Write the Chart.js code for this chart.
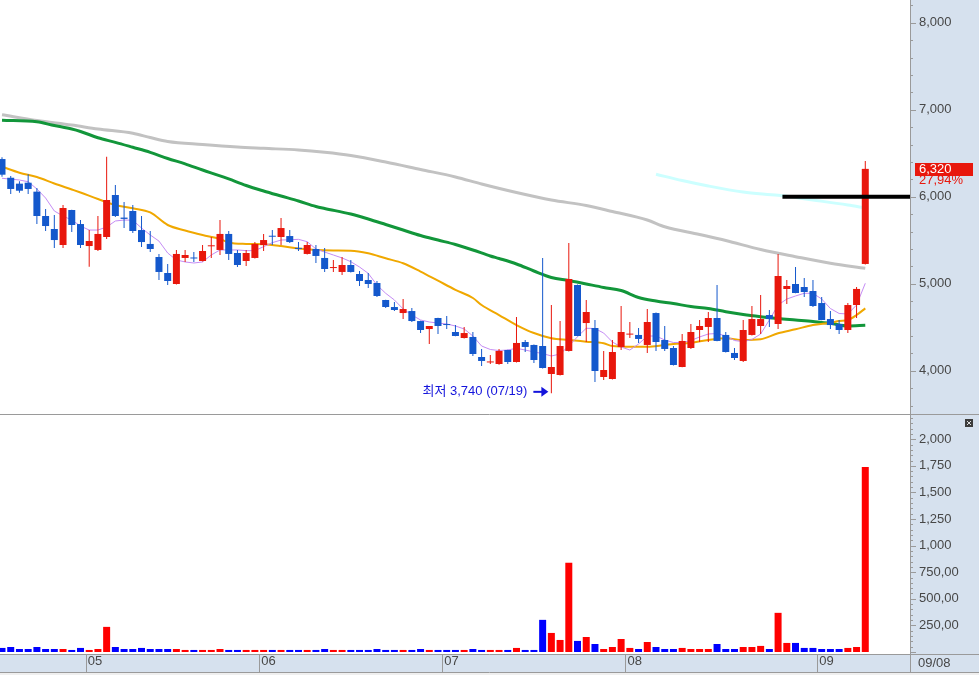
<!DOCTYPE html>
<html><head><meta charset="utf-8">
<script src="https://cdn.jsdelivr.net/npm/chart.js@4/dist/chart.umd.min.js"></script>
<style>
html,body{margin:0;padding:0;background:#fff;overflow:hidden}
#wrap{position:relative;width:979px;height:675px}
canvas{position:absolute;left:0;display:block}
#c1{top:0}#c2{top:415px}
</style></head><body>
<div id="wrap"><canvas id="c1" width="979" height="415"></canvas><canvas id="c2" width="979" height="260"></canvas></div>
<script>
// ---------- data ----------
const openP = [6433,6218,6150,6161,6058,5778,5629,5445,5847,5686,
5433,5388,5537,6020,5760,5836,5617,5457,5307,5123,
4997,5296,5300,5261,5430,5388,5572,5353,5261,5296,
5445,5545,5537,5548,5405,5342,5399,5296,5180,5135,
5215,5112,5043,5008,4813,4732,4663,4686,4571,4479,
4606,4530,4445,4376,4388,4158,4095,4077,4238,4100,
4330,4296,4284,3962,3951,4227,4985,4548,4491,3928,
3905,4273,4415,4411,4296,4663,4353,4261,4043,4261,
4468,4503,4606,4411,4204,4112,4411,4514,4640,4537,
4939,4997,4962,4916,4778,4594,4537,4468,4755,5227];
const highP = [6453,6238,6177,6257,6100,5859,5790,5905,5850,5732,
5617,5778,6460,6135,5939,5905,5778,5606,5342,5227,
5388,5388,5365,5445,5537,5732,5606,5388,5388,5479,
5572,5617,5755,5617,5479,5479,5445,5411,5273,5307,
5273,5146,5123,5031,4815,4790,4824,4721,4575,4514,
4610,4629,4525,4502,4445,4250,4181,4250,4242,4617,
4353,4300,5296,4755,4571,5468,4990,4813,4583,4227,
4353,4744,4560,4491,4709,4670,4514,4284,4422,4537,
4583,4675,4985,4445,4261,4583,4744,4870,4698,5342,
5043,5192,5066,5043,4847,4686,4583,4778,4962,6410];
const lowP = [6230,6031,6046,6031,5686,5606,5411,5411,5594,5411,
5196,5376,5514,5767,5640,5583,5422,5365,5043,4985,
4990,5250,5250,5255,5296,5330,5273,5192,5204,5290,
5376,5445,5445,5468,5376,5335,5238,5135,5135,5100,
5130,4974,4951,4847,4721,4686,4594,4560,4433,4307,
4422,4479,4395,4370,4169,4054,4077,4070,4077,4095,
4215,4089,4025,3740,3945,4220,4395,4330,3870,3893,
3900,4238,4376,4319,4204,4227,4227,4060,4040,4250,
4330,4330,4340,4210,4123,4100,4405,4422,4502,4479,
4767,4890,4847,4732,4580,4479,4422,4433,4606,5220];
const closeP = [6253,6089,6069,6089,5778,5663,5502,5870,5675,5445,
5491,5572,5962,5778,5745,5606,5479,5399,5135,5031,
5342,5330,5290,5376,5440,5572,5342,5215,5353,5457,
5502,5540,5640,5479,5400,5445,5319,5169,5185,5215,
5135,5031,4997,4859,4732,4698,4709,4571,4468,4514,
4514,4525,4399,4433,4192,4112,4100,4227,4100,4319,
4273,4123,4031,4043,4284,5054,4399,4675,3997,4008,
4215,4445,4425,4365,4560,4330,4250,4066,4342,4445,
4514,4606,4342,4215,4146,4468,4594,4594,4594,5089,
4974,4893,4905,4744,4583,4525,4468,4755,4940,6320];
const volume = [38,47,28,28,47,28,28,28,19,38,
19,28,236,47,28,28,38,28,28,28,
28,19,19,19,19,28,19,19,19,19,
19,19,19,19,19,19,19,28,19,19,
19,19,19,28,19,19,19,19,28,19,
19,19,19,19,28,19,19,19,19,38,
19,19,302,179,113,839,104,141,75,28,
47,122,38,28,94,47,28,28,38,28,
28,28,75,28,28,47,47,57,28,368,
85,85,38,38,28,28,28,38,47,1740];

// moving-average lines, read as [candle index, price]
const ma5 = [[0,6212],[2,6192],[3,6172],[4,6089],[5,5985],[6,5836],[7,5778],[8,5732],[9,5663],[10,5617],[11,5617],[12,5652],[13,5721],[14,5732],[15,5730],[16,5640],[17,5560],[18,5490],[19,5353],[20,5273],[21,5250],[22,5238],[23,5250],[24,5330],[25,5388],[26,5388],[27,5388],[28,5380],[29,5380],[30,5426],[31,5472],[32,5502],[33,5505],[34,5510],[35,5483],[36,5400],[37,5364],[38,5330],[39,5296],[40,5253],[41,5192],[42,5119],[43,4985],[44,4890],[45,4813],[46,4710],[47,4640],[48,4583],[49,4560],[50,4548],[51,4537],[52,4514],[53,4480],[54,4399],[55,4284],[56,4244],[57,4232],[58,4238],[59,4258],[60,4238],[61,4215],[62,4198],[63,4169],[64,4192],[65,4284],[66,4391],[67,4488],[68,4485],[69,4433],[70,4330],[71,4273],[72,4238],[73,4307],[74,4399],[75,4399],[76,4353],[77,4324],[78,4324],[79,4347],[80,4388],[81,4422],[82,4428],[83,4399],[84,4347],[85,4334],[86,4359],[87,4422],[88,4583],[89,4755],[90,4824],[91,4859],[92,4890],[93,4890],[94,4824],[95,4715],[96,4658],[97,4652],[98,4755],[99,5005]];
const ma20 = [[0,6345],[2,6276],[4,6227],[6,6152],[8,6083],[9,6048],[11,5974],[13,5905],[15,5867],[17,5819],[19,5675],[21,5612],[23,5560],[25,5514],[26,5474],[28,5457],[30,5453],[32,5433],[34,5405],[36,5388],[38,5382],[40,5380],[42,5350],[44,5292],[46,5235],[48,5140],[50,5035],[52,4930],[54,4836],[55,4755],[57,4640],[59,4525],[61,4433],[63,4373],[65,4353],[67,4334],[69,4315],[70,4284],[72,4276],[74,4276],[76,4296],[77,4307],[79,4322],[81,4353],[83,4373],[85,4353],[87,4361],[89,4430],[91,4476],[93,4525],[95,4552],[96,4571],[97,4583],[98,4640],[99,4717]];
const ma60 = [[0,6878],[4,6861],[6,6818],[8,6778],[9,6750],[11,6678],[13,6625],[15,6568],[17,6510],[19,6439],[21,6378],[23,6307],[25,6240],[26,6204],[28,6129],[30,6066],[32,6008],[34,5951],[36,5888],[37,5865],[40,5801],[42,5744],[44,5681],[46,5617],[48,5554],[50,5502],[52,5451],[54,5388],[56,5319],[57,5290],[59,5227],[61,5146],[63,5072],[65,5037],[67,4997],[69,4957],[71,4922],[73,4842],[75,4801],[77,4772],[79,4738],[81,4715],[83,4678],[85,4646],[87,4621],[89,4600],[91,4583],[93,4566],[95,4545],[97,4514],[99,4522]];
const ma120 = [[0,6943],[4,6876],[8,6824],[11,6778],[15,6729],[17,6680],[19,6635],[23,6600],[27,6571],[30,6556],[34,6537],[37,6511],[40,6474],[44,6399],[48,6313],[52,6227],[55,6146],[59,6048],[63,5962],[67,5899],[70,5830],[74,5732],[76,5655],[80,5566],[83,5497],[87,5393],[91,5311],[95,5235],[99,5177]];
const ma240 = [[75,6258],[78,6186],[81,6123],[85,6054],[89,6016],[93,5962],[97,5905],[99,5870]];

const monthTickPos = [9.6, 29.5, 50.5, 71.5, 93.5];
const monthTickLabels = ['05','06','07','08','09'];
const lastDateLabel = '09/08';
const priceTicks = [3600,3800,4000,4200,4400,4600,4800,5000,5200,5400,5600,5800,6000,6200,6400,6600,6800,7000,7200,7400,7600,7800,8000,8200];
const volLabelValues = [250,500,750,1000,1250,1500,1750,2000];
const volLabelTexts = ['250,00','500,00','750,00','1,000','1,250','1,500','1,750','2,000'];
const lastChangeLabel = '27,94%';
const lowNote = {index: 63, price: 3740, text: '최저 3,740 (07/19)'};
const targetLine = {from: 89.5, price: 6000};

// ---------- style / layout ----------
const UP = '#E8170C', DOWN = '#1458CC', VUP = '#FF0000', VDOWN = '#0000FF';
const AXIS_BG = '#D6E1EE', LINE_GRAY = '#9A9A9A', TEXT = '#474747', NOTE_BLUE = '#1414DC';
const FONT = "'Liberation Sans Narrow','Liberation Sans','Noto Sans CJK KR',sans-serif";
const X_MIN = -0.2294, X_MAX = 104.128;
const PRICE_MIN = 3491, PRICE_MAX = 8261, VOL_MIN = -19, VOL_MAX = 2228;
const AXIS_W = 69;

const isUp = i => closeP[i] >= openP[i];
const pts = arr => arr.map(([i, v]) => ({x: i, y: v}));
const fitY = s => { s.width = AXIS_W; s.paddingTop = 0; s.paddingBottom = 0; };

function drawYTicks(ctx, scale, isMajor) {
  ctx.save();
  ctx.strokeStyle = LINE_GRAY; ctx.lineWidth = 1;
  scale.ticks.forEach(t => {
    const y = Math.round(scale.getPixelForValue(t.value)) + 0.5;
    const len = isMajor(t.value) ? 6 : 3;
    ctx.beginPath(); ctx.moveTo(scale.left, y); ctx.lineTo(scale.left + len, y); ctx.stroke();
  });
  ctx.restore();
}

const topDeco = {
  id: 'topDeco',
  beforeDraw(chart) {
    const {ctx, width, height, chartArea} = chart;
    ctx.save();
    ctx.fillStyle = '#fff'; ctx.fillRect(0, 0, width, height);
    ctx.fillStyle = AXIS_BG; ctx.fillRect(chartArea.right, 0, width - chartArea.right, height);
    ctx.restore();
  },
  afterDraw(chart) {
    const {ctx, width, height, chartArea, scales} = chart;
    const ys = scales.y, xs = scales.x;
    ctx.save();
    ctx.strokeStyle = LINE_GRAY; ctx.lineWidth = 1;
    ctx.beginPath(); ctx.moveTo(chartArea.right + 0.5, 0); ctx.lineTo(chartArea.right + 0.5, height); ctx.stroke();
    ctx.beginPath(); ctx.moveTo(0, height - 0.5); ctx.lineTo(width, height - 0.5); ctx.stroke();
    drawYTicks(ctx, ys, v => v % 1000 === 0);
    // last price tag
    const last = closeP.length - 1;
    const py = ys.getPixelForValue(closeP[last]);
    ctx.fillStyle = UP;
    ctx.fillRect(chartArea.right + 5, Math.round(py) - 6, 58, 13);
    ctx.font = '13px ' + FONT; ctx.textAlign = 'left'; ctx.textBaseline = 'middle';
    ctx.fillStyle = '#fff';
    ctx.fillText(closeP[last].toLocaleString('en-US'), chartArea.right + 9, py + 0.5);
    ctx.fillStyle = UP;
    ctx.fillText(lastChangeLabel, chartArea.right + 9, py + 12);
    // low note
    const tipX = xs.getPixelForValue(lowNote.index) - 3;
    const cy = ys.getPixelForValue(lowNote.price) - 1.5;
    ctx.strokeStyle = NOTE_BLUE; ctx.fillStyle = NOTE_BLUE; ctx.lineWidth = 2;
    ctx.beginPath(); ctx.moveTo(tipX - 15, cy); ctx.lineTo(tipX - 5, cy); ctx.stroke();
    ctx.beginPath(); ctx.moveTo(tipX, cy); ctx.lineTo(tipX - 7, cy - 5); ctx.lineTo(tipX - 7, cy + 5); ctx.closePath(); ctx.fill();
    ctx.font = '13px ' + FONT; ctx.textAlign = 'right'; ctx.textBaseline = 'middle';
    ctx.fillText(lowNote.text, tipX - 21, cy);
    ctx.restore();
  }
};

const bottomDeco = {
  id: 'bottomDeco',
  beforeDraw(chart) {
    const {ctx, width, height, chartArea} = chart;
    ctx.save();
    ctx.fillStyle = '#fff'; ctx.fillRect(0, 0, width, height);
    ctx.fillStyle = AXIS_BG;
    ctx.fillRect(chartArea.right, 0, width - chartArea.right, chartArea.bottom);
    ctx.fillRect(0, chartArea.bottom, width, 18);
    ctx.fillStyle = '#EFEFEF'; ctx.fillRect(0, chartArea.bottom + 18, width, height - chartArea.bottom - 18);
    ctx.restore();
  },
  afterDraw(chart) {
    const {ctx, width, chartArea, scales} = chart;
    const yv = scales.yv, xs = scales.x;
    const sTop = chartArea.bottom, sBot = chartArea.bottom + 18;
    ctx.save();
    ctx.strokeStyle = LINE_GRAY; ctx.lineWidth = 1;
    ctx.beginPath(); ctx.moveTo(chartArea.right + 0.5, 0); ctx.lineTo(chartArea.right + 0.5, sBot); ctx.stroke();
    ctx.beginPath(); ctx.moveTo(0, sTop + 0.5); ctx.lineTo(width, sTop + 0.5); ctx.stroke();
    ctx.beginPath(); ctx.moveTo(0, sBot + 0.5); ctx.lineTo(width, sBot + 0.5); ctx.stroke();
    monthTickPos.forEach(v => {
      const x = Math.round(xs.getPixelForValue(v)) + 0.5;
      ctx.beginPath(); ctx.moveTo(x, sTop); ctx.lineTo(x, sBot); ctx.stroke();
    });
    drawYTicks(ctx, yv, v => v % 250 === 0);
    ctx.fillStyle = TEXT; ctx.font = '13px ' + FONT; ctx.textAlign = 'left'; ctx.textBaseline = 'middle';
    ctx.fillText(lastDateLabel, chartArea.right + 8, sTop + 9.5);
    // small panel icon
    ctx.fillStyle = '#3c3c3c'; ctx.fillRect(965, 4, 8, 8);
    ctx.strokeStyle = '#ddd'; ctx.lineWidth = 1;
    ctx.beginPath(); ctx.moveTo(967, 6); ctx.lineTo(971, 10); ctx.moveTo(971, 6); ctx.lineTo(967, 10); ctx.stroke();
    ctx.restore();
  }
};

Chart.defaults.font.family = FONT;
Chart.defaults.font.size = 13;
Chart.defaults.color = TEXT;

const common = {
  responsive: false, animation: false, devicePixelRatio: 1, events: [],
  layout: {padding: 0, autoPadding: false},
  plugins: {legend: {display: false}, tooltip: {enabled: false}}
};

const lineDs = (data, color, width, order, smooth) => ({
  type: 'line', data: pts(data), borderColor: color, borderWidth: width,
  pointRadius: 0, fill: false, order, yAxisID: 'y',
  tension: 0, cubicInterpolationMode: smooth ? 'monotone' : 'default'
});

new Chart(document.getElementById('c1'), {
  type: 'bar',
  data: {
    datasets: [
      {type: 'line', data: [{x: targetLine.from, y: targetLine.price}, {x: X_MAX, y: targetLine.price}],
       borderColor: '#000', borderWidth: 4, pointRadius: 0, order: 0, yAxisID: 'y'},
      {data: openP.map((o, i) => ({x: i, y: [o, closeP[i]]})),
       backgroundColor: openP.map((o, i) => isUp(i) ? UP : DOWN),
       barThickness: 7, minBarLength: 1, grouped: false, order: 1, borderWidth: 0, inflateAmount: 0, yAxisID: 'y'},
      {data: highP.map((h, i) => ({x: i, y: [lowP[i], h]})),
       backgroundColor: openP.map((o, i) => isUp(i) ? UP : DOWN),
       barThickness: 1, grouped: false, order: 2, borderWidth: 0, inflateAmount: 0, yAxisID: 'y'},
      lineDs(ma5, '#C58CF5', 1, 3, false),
      lineDs(ma20, '#F0A800', 2, 4, true),
      lineDs(ma60, '#12963A', 3, 5, true),
      lineDs(ma120, '#C2C2C2', 3, 6, true),
      lineDs(ma240, '#CCFFFF', 3, 7, true)
    ]
  },
  options: Object.assign({}, common, {
    scales: {
      x: {type: 'linear', min: X_MIN, max: X_MAX, display: false, offset: false},
      y: {
        position: 'right', min: PRICE_MIN, max: PRICE_MAX,
        afterFit: fitY,
        afterBuildTicks: s => { s.ticks = priceTicks.map(v => ({value: v})); },
        grid: {display: false, drawTicks: false}, border: {display: false},
        ticks: {autoSkip: false, padding: 9, color: TEXT, font: {size: 13},
                callback: v => v % 1000 === 0 ? v.toLocaleString('en-US') : ''}
      }
    }
  }),
  plugins: [topDeco]
});

new Chart(document.getElementById('c2'), {
  type: 'bar',
  data: {
    datasets: [{
      data: volume.map((v, i) => ({x: i, y: v})),
      backgroundColor: volume.map((v, i) => isUp(i) ? VUP : VDOWN),
      barThickness: 7, borderWidth: 0, inflateAmount: 0, yAxisID: 'yv'
    }]
  },
  options: Object.assign({}, common, {
    scales: {
      x: {
        type: 'linear', position: 'bottom', min: X_MIN, max: X_MAX, offset: false,
        afterFit: s => { s.height = 21; s.paddingLeft = 0; s.paddingRight = 0; },
        afterBuildTicks: s => { s.ticks = monthTickPos.map(v => ({value: v})); },
        grid: {display: false, drawTicks: false}, border: {display: false},
        ticks: {autoSkip: false, maxRotation: 0, align: 'start', padding: 0, labelOffset: 2, color: TEXT, font: {size: 13},
                callback: v => monthTickLabels[monthTickPos.indexOf(v)] || ''}
      },
      yv: {
        position: 'right', min: VOL_MIN, max: VOL_MAX,
        afterFit: fitY,
        afterBuildTicks: s => { const t = []; for (let v = 0; v <= 2200; v += 50) t.push({value: v}); s.ticks = t; },
        grid: {display: false, drawTicks: false}, border: {display: false},
        ticks: {autoSkip: false, padding: 9, color: TEXT, font: {size: 13},
                callback: v => { const k = volLabelValues.indexOf(v); return k >= 0 ? volLabelTexts[k] : ''; }}
      }
    }
  }),
  plugins: [bottomDeco]
});
</script>
</body></html>
